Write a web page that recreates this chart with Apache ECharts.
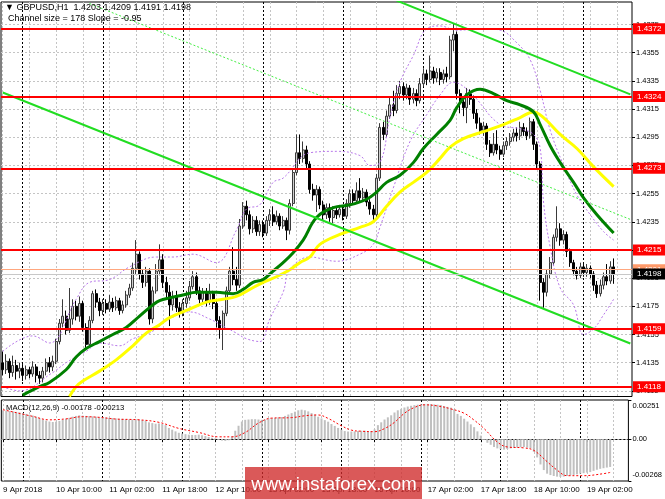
<!DOCTYPE html>
<html><head><meta charset="utf-8">
<script src="https://cdn.jsdelivr.net/npm/echarts@6/dist/echarts.min.js"></script>
<style>html,body{margin:0;padding:0;background:#fff}#c{width:665px;height:499px}</style>
</head><body><div id="c"></div>
<script>
// ---------- header texts ----------
const headerLine1 = '\u25BC GBPUSD,H1  1.4203 1.4209 1.4191 1.4198';
const headerLine2 = 'Channel size = 178 Slope = -0.95';
const macdInfo = 'MACD(12,26,9) -0.00178 -0.00213';
const watermark = 'www.instaforex.com';

// ---------- candles [open, close, low, high], H1 bars from 9 Apr 18:00 ----------
const ohlc = [
[1.4135,1.4130,1.4126,1.4143],[1.4130,1.4136,1.4127,1.4141],[1.4136,1.4128,1.4124,1.4138],[1.4128,1.4133,1.4125,1.4140],
[1.4133,1.4129,1.4123,1.4137],[1.4129,1.4131,1.4124,1.4135],[1.4131,1.4126,1.4122,1.4134],[1.4126,1.4130,1.4123,1.4133],
[1.4130,1.4127,1.4124,1.4132],[1.4127,1.4132,1.4125,1.4136],[1.4132,1.4126,1.4121,1.4134],[1.4126,1.4124,1.4120,1.4129],
[1.4124,1.4129,1.4121,1.4132],[1.4129,1.4135,1.4126,1.4138],[1.4135,1.4132,1.4128,1.4139],[1.4132,1.4136,1.4129,1.4140],
[1.4136,1.4150,1.4134,1.4152],[1.4150,1.4163,1.4148,1.4166],[1.4163,1.4168,1.4160,1.4180],[1.4168,1.4158,1.4155,1.4172],
[1.4158,1.4166,1.4156,1.4188],[1.4166,1.4175,1.4162,1.4180],[1.4175,1.4168,1.4165,1.4179],[1.4168,1.4177,1.4164,1.4182],
[1.4177,1.4160,1.4157,1.4179],[1.4160,1.4148,1.4145,1.4163],[1.4148,1.4165,1.4146,1.4168],[1.4165,1.4184,1.4163,1.4186],
[1.4184,1.4178,1.4174,1.4187],[1.4178,1.4172,1.4168,1.4181],[1.4172,1.4177,1.4169,1.4180],[1.4177,1.4173,1.4170,1.4180],
[1.4173,1.4178,1.4171,1.4183],[1.4178,1.4174,1.4171,1.4181],[1.4174,1.4179,1.4172,1.4182],[1.4179,1.4172,1.4169,1.4181],
[1.4172,1.4176,1.4170,1.4179],[1.4176,1.4183,1.4174,1.4186],[1.4183,1.4188,1.4181,1.4191],[1.4188,1.4202,1.4186,1.4206],
[1.4202,1.4212,1.4198,1.4222],[1.4212,1.4198,1.4194,1.4214],[1.4198,1.4192,1.4188,1.4201],[1.4192,1.4200,1.4189,1.4203],
[1.4200,1.4166,1.4162,1.4202],[1.4166,1.4186,1.4163,1.4189],[1.4186,1.4200,1.4184,1.4205],[1.4200,1.4208,1.4197,1.4219],
[1.4208,1.4192,1.4188,1.4212],[1.4192,1.4185,1.4180,1.4196],[1.4185,1.4176,1.4161,1.4190],[1.4176,1.4182,1.4172,1.4186],
[1.4182,1.4174,1.4171,1.4186],[1.4174,1.4170,1.4167,1.4178],[1.4170,1.4177,1.4168,1.4180],[1.4177,1.4181,1.4174,1.4186],
[1.4181,1.4189,1.4179,1.4193],[1.4189,1.4196,1.4187,1.4200],[1.4196,1.4186,1.4183,1.4199],[1.4186,1.4180,1.4177,1.4189],
[1.4180,1.4185,1.4176,1.4188],[1.4185,1.4178,1.4175,1.4188],[1.4178,1.4184,1.4176,1.4191],[1.4184,1.4177,1.4173,1.4186],
[1.4177,1.4165,1.4160,1.4179],[1.4165,1.4159,1.4152,1.4168],[1.4159,1.4170,1.4144,1.4172],[1.4170,1.4186,1.4168,1.4189],
[1.4186,1.4200,1.4184,1.4203],[1.4200,1.4194,1.4190,1.4217],[1.4194,1.4190,1.4186,1.4203],[1.4190,1.4232,1.4188,1.4237],
[1.4232,1.4246,1.4230,1.4249],[1.4246,1.4240,1.4236,1.4250],[1.4240,1.4230,1.4226,1.4243],[1.4230,1.4236,1.4227,1.4239],
[1.4236,1.4228,1.4225,1.4239],[1.4228,1.4233,1.4225,1.4236],[1.4233,1.4227,1.4224,1.4236],[1.4227,1.4236,1.4225,1.4239],
[1.4236,1.4240,1.4232,1.4244],[1.4240,1.4235,1.4232,1.4246],[1.4235,1.4239,1.4233,1.4243],[1.4239,1.4232,1.4229,1.4241],
[1.4232,1.4236,1.4230,1.4239],[1.4236,1.4229,1.4222,1.4238],[1.4229,1.4248,1.4226,1.4251],[1.4248,1.4270,1.4246,1.4273],
[1.4270,1.4284,1.4268,1.4297],[1.4284,1.4280,1.4276,1.4297],[1.4280,1.4286,1.4277,1.4292],[1.4286,1.4276,1.4273,1.4289],
[1.4276,1.4258,1.4255,1.4278],[1.4258,1.4254,1.4250,1.4262],[1.4254,1.4258,1.4242,1.4261],[1.4258,1.4247,1.4244,1.4260],
[1.4247,1.4240,1.4236,1.4250],[1.4240,1.4245,1.4237,1.4248],[1.4245,1.4238,1.4235,1.4248],[1.4238,1.4243,1.4234,1.4246],
[1.4243,1.4240,1.4237,1.4246],[1.4240,1.4244,1.4238,1.4247],[1.4244,1.4239,1.4236,1.4246],[1.4239,1.4248,1.4237,1.4251],
[1.4248,1.4255,1.4245,1.4258],[1.4255,1.4250,1.4247,1.4258],[1.4250,1.4257,1.4248,1.4263],[1.4257,1.4252,1.4249,1.4266],
[1.4252,1.4256,1.4249,1.4259],[1.4256,1.4249,1.4246,1.4258],[1.4249,1.4244,1.4240,1.4251],[1.4244,1.4240,1.4236,1.4247],
[1.4240,1.4266,1.4238,1.4269],[1.4266,1.4302,1.4264,1.4305],[1.4302,1.4297,1.4293,1.4306],[1.4297,1.4310,1.4295,1.4314],
[1.4310,1.4318,1.4308,1.4323],[1.4318,1.4314,1.4310,1.4328],[1.4314,1.4326,1.4312,1.4332],[1.4326,1.4331,1.4322,1.4335],
[1.4331,1.4325,1.4321,1.4334],[1.4325,1.4330,1.4322,1.4333],[1.4330,1.4322,1.4318,1.4332],[1.4322,1.4326,1.4319,1.4330],
[1.4326,1.4321,1.4317,1.4329],[1.4321,1.4333,1.4319,1.4337],[1.4333,1.4340,1.4331,1.4344],[1.4340,1.4336,1.4332,1.4343],
[1.4336,1.4342,1.4334,1.4353],[1.4342,1.4337,1.4333,1.4345],[1.4337,1.4341,1.4334,1.4344],[1.4341,1.4336,1.4332,1.4344],
[1.4336,1.4340,1.4333,1.4343],[1.4340,1.4338,1.4334,1.4345],[1.4338,1.4364,1.4336,1.4367],[1.4364,1.4368,1.4356,1.4376],
[1.4368,1.4326,1.4322,1.4370],[1.4326,1.4320,1.4312,1.4329],[1.4320,1.4316,1.4310,1.4324],[1.4316,1.4326,1.4305,1.4330],
[1.4326,1.4322,1.4318,1.4329],[1.4322,1.4312,1.4308,1.4325],[1.4312,1.4305,1.4301,1.4315],[1.4305,1.4300,1.4297,1.4309],
[1.4300,1.4303,1.4296,1.4306],[1.4303,1.4290,1.4286,1.4305],[1.4290,1.4284,1.4281,1.4293],[1.4284,1.4290,1.4282,1.4298],
[1.4290,1.4286,1.4283,1.4300],[1.4286,1.4283,1.4279,1.4289],[1.4283,1.4289,1.4281,1.4292],[1.4289,1.4292,1.4286,1.4295],
[1.4292,1.4295,1.4289,1.4298],[1.4295,1.4298,1.4292,1.4301],[1.4298,1.4296,1.4292,1.4302],[1.4296,1.4302,1.4293,1.4306],
[1.4302,1.4299,1.4296,1.4305],[1.4299,1.4296,1.4293,1.4302],[1.4296,1.4306,1.4294,1.4309],[1.4306,1.4290,1.4286,1.4308],
[1.4290,1.4276,1.4272,1.4292],[1.4276,1.4192,1.4179,1.4278],[1.4192,1.4185,1.4174,1.4195],[1.4185,1.4198,1.4182,1.4201],
[1.4198,1.4206,1.4195,1.4210],[1.4206,1.4224,1.4204,1.4226],[1.4224,1.4230,1.4221,1.4246],[1.4230,1.4222,1.4218,1.4234],
[1.4222,1.4226,1.4219,1.4229],[1.4226,1.4214,1.4210,1.4228],[1.4214,1.4206,1.4203,1.4216],[1.4206,1.4200,1.4197,1.4208],
[1.4200,1.4197,1.4194,1.4203],[1.4197,1.4203,1.4195,1.4206],[1.4203,1.4199,1.4196,1.4205],[1.4199,1.4202,1.4196,1.4205],
[1.4202,1.4198,1.4195,1.4204],[1.4198,1.4190,1.4186,1.4200],[1.4190,1.4184,1.4181,1.4193],[1.4184,1.4190,1.4182,1.4194],
[1.4190,1.4196,1.4187,1.4199],[1.4196,1.4193,1.4190,1.4205],[1.4193,1.4203,1.4191,1.4207],[1.4203,1.4198,1.4191,1.4209]
];

// ---------- moving averages & bands: [barIndex, price] ----------
const maGreen = [[6,1.4112],[11,1.4118],[14,1.4121],[19,1.4130],[22,1.4139],[25,1.4145],[29,1.4150],[33,1.4155],[37,1.4160],[41,1.4168],[45,1.4176],[47,1.4179],[50,1.4181],[54,1.4183],[58,1.4185],[64,1.4185],[69,1.4184],[72,1.4187],[75,1.4192],[78,1.4194],[81,1.4200],[84,1.4206],[87,1.4213],[90,1.4222],[94,1.4238],[99,1.4245],[104,1.4247],[109,1.4251],[112,1.4256],[115,1.4263],[119,1.4268],[123,1.4277],[126,1.4287],[130,1.4297],[134,1.4307],[136,1.4316],[139,1.4325],[143,1.4329],[147,1.4326],[151,1.4321],[155,1.4318],[159,1.4313],[161,1.4304],[164,1.4289],[167,1.4277],[171,1.4263],[174,1.4252],[178,1.4240],[183,1.4227]];
const maYellow = [[20,1.4111],[22,1.4118],[24,1.4122],[29,1.4129],[34,1.4137],[39,1.4147],[43,1.4156],[47,1.4162],[50,1.4167],[56,1.4173],[61,1.4178],[66,1.4180],[70,1.4182],[74,1.4187],[78,1.4192],[82,1.4196],[86,1.4201],[89,1.4206],[92,1.4210],[95,1.4219],[101,1.4226],[107,1.4231],[111,1.4235],[115,1.4246],[119,1.4256],[123,1.4263],[127,1.4270],[131,1.4280],[134,1.4288],[138,1.4294],[144,1.4299],[150,1.4304],[155,1.4309],[159,1.4313],[162,1.4309],[167,1.4297],[172,1.4287],[177,1.4274],[183,1.4260]];
const bandUpper = [[0,1.4143],[9,1.4154],[14,1.4149],[22,1.4180],[26,1.4192],[32,1.4194],[38,1.4203],[46,1.4210],[51,1.4210],[57,1.4212],[64,1.4206],[70,1.4229],[73,1.4244],[77,1.4247],[81,1.4263],[84,1.4266],[92,1.4284],[100,1.4285],[107,1.4282],[110,1.4275],[113,1.4277],[116,1.4309],[119,1.4334],[123,1.4353],[127,1.4372],[131,1.4374],[136,1.4371],[144,1.4372],[149,1.4371],[154,1.4362],[158,1.4350],[161,1.4328],[164,1.4300],[168,1.4275],[172,1.4254],[176,1.4240],[180,1.4228],[183,1.4222]];
const bandLower = [[0,1.4118],[5,1.4115],[15,1.4128],[19,1.4135],[25,1.4143],[29,1.4149],[35,1.4147],[39,1.4152],[44,1.4156],[50,1.4166],[56,1.4171],[62,1.4166],[66,1.4161],[70,1.4156],[73,1.4152],[77,1.4150],[80,1.4166],[84,1.4185],[86,1.4201],[92,1.4210],[100,1.4207],[107,1.4212],[111,1.4219],[113,1.4231],[117,1.4259],[122,1.4292],[127,1.4311],[131,1.4325],[135,1.4334],[140,1.4327],[149,1.4304],[155,1.4301],[159,1.4297],[161,1.4287],[162,1.4249],[164,1.4217],[167,1.4188],[171,1.4176],[174,1.4155],[177,1.4159],[180,1.4169],[183,1.4180]];

// ---------- regression channel (end points) ----------
const channelUpper = [[118,1.4392],[188,1.43254]];
const channelMid   = [[26,1.43899],[188,1.42367]];
const channelLower = [[0,1.43268],[188,1.41486]];

// ---------- levels ----------
const levels = [1.4372, 1.4324, 1.4273, 1.4215, 1.4159, 1.4118];
const askPrice = 1.4201;
const bidPrice = 1.4198;

// ---------- MACD ----------
const macdHist = [
0.00185,0.00183,0.00180,0.00178,0.00175,0.00171,0.00167,0.00162,0.00157,0.00151,
0.00144,0.00135,0.00126,0.00119,0.00113,0.00110,0.00112,0.00117,0.00124,0.00131,
0.00137,0.00144,0.00149,0.00153,0.00151,0.00149,0.00148,0.00146,0.00144,0.00140,
0.00140,0.00139,0.00137,0.00135,0.00133,0.00131,0.00130,0.00128,0.00126,0.00126,
0.00128,0.00126,0.00122,0.00119,0.00108,0.00103,0.00099,0.00101,0.00097,0.00090,
0.00072,0.00061,0.00050,0.00041,0.00036,0.00032,0.00029,0.00027,0.00027,0.00029,
0.00025,0.00020,0.00014,0.00009,0.00005,-0.00004,-0.00009,-0.00011,-0.00007,0.00018,
0.00054,0.00086,0.00113,0.00124,0.00126,0.00128,0.00128,0.00126,0.00124,0.00126,
0.00133,0.00135,0.00137,0.00140,0.00142,0.00149,0.00158,0.00167,0.00176,0.00185,
0.00189,0.00185,0.00178,0.00167,0.00158,0.00144,0.00133,0.00122,0.00112,0.00097,
0.00085,0.00072,0.00061,0.00052,0.00049,0.00049,0.00050,0.00052,0.00054,0.00054,
0.00052,0.00050,0.00063,0.00090,0.00108,0.00126,0.00140,0.00153,0.00171,0.00185,
0.00194,0.00203,0.00209,0.00214,0.00218,0.00221,0.00223,0.00225,0.00226,0.00225,
0.00223,0.00221,0.00218,0.00212,0.00207,0.00202,0.00191,0.00162,0.00149,0.00131,
0.00113,0.00095,0.00077,0.00050,0.00023,-0.00005,-0.00023,-0.00036,-0.00050,-0.00059,
-0.00065,-0.00067,-0.00063,-0.00059,-0.00056,-0.00054,-0.00052,-0.00050,-0.00054,-0.00059,
-0.00081,-0.00117,-0.00162,-0.00198,-0.00221,-0.00230,-0.00236,-0.00240,-0.00242,-0.00240,
-0.00236,-0.00232,-0.00229,-0.00225,-0.00221,-0.00218,-0.00214,-0.00211,-0.00203,-0.00196,
-0.00190,-0.00186,-0.00182,-0.00178
];
const macdSignal = [[0,0.00189],[9,0.00146],[14,0.00124],[19,0.00130],[24,0.00144],[29,0.00140],[34,0.00129],[41,0.00124],[47,0.00108],[53,0.00069],[59,0.00043],[65,0.00015],[69,0.00015],[73,0.00043],[77,0.00103],[81,0.00135],[87,0.00138],[91,0.00150],[95,0.00155],[98,0.00133],[102,0.00086],[105,0.00058],[108,0.00051],[112,0.00048],[115,0.00068],[118,0.00108],[121,0.00166],[124,0.00203],[127,0.00220],[131,0.00213],[135,0.00194],[139,0.00166],[142,0.00122],[145,0.00068],[149,-0.00018],[152,-0.00050],[157,-0.00056],[160,-0.00072],[164,-0.00144],[167,-0.00198],[170,-0.00234],[175,-0.00234],[181,-0.00221],[183,-0.00213]];

// ---------- axes ----------
const priceTicks = [1.4115,1.4135,1.4155,1.4175,1.4195,1.4215,1.4235,1.4255,1.4275,1.4295,1.4315,1.4335,1.4355,1.4375];
const macdTicks = [0.00251, 0, -0.00268];
const xTickLabels = ['9 Apr 2018','10 Apr 10:00','11 Apr 02:00','11 Apr 18:00','12 Apr 10:00','13 Apr 02:00','13 Apr 18:00','16 Apr 10:00','17 Apr 02:00','17 Apr 18:00','18 Apr 10:00','19 Apr 02:00'];
const xTickEvery = 16;
const daySeparators = [6,30,54,78,102,126,150,174];
const gridEvery = 8;

// hourly categories (weekend skipped), plus empty slots on the right
const cats = [];
for (let t = Date.UTC(2018,3,9,18); cats.length < 189; t += 3600000) {
  const d = new Date(t), wd = d.getUTCDay();
  if (wd === 0 || wd === 6) continue;
  cats.push(d.toISOString().slice(0,13).replace('T',' ') + ':00');
}

const FONT = '"Liberation Sans", Arial, sans-serif';
const vIdx = (i) => (i % gridEvery === 0) || daySeparators.indexOf(i) >= 0;
const vColors = ['#c4c4c4','#000000','#c4c4c4','#c4c4c4'];

const levelLabel = (bg) => ({show:true, position:'end', distance:1, formatter:(p)=>Number(p.value).toFixed(4),
  backgroundColor:bg, color:'#fff', fontSize:8, fontFamily:FONT, padding:[2,5,1,4]});

const chart = echarts.init(document.getElementById('c'), null, {renderer:'canvas'});
chart.setOption({
  animation:false,
  backgroundColor:'#fff',
  grid:[
    {left:1, top:2, width:631, height:394.5, show:true, borderColor:'#000', borderWidth:1, backgroundColor:'transparent'},
    {left:1, top:400, width:631, height:81, show:true, borderColor:'#000', borderWidth:1, backgroundColor:'transparent'}
  ],
  xAxis:[
    {type:'category', gridIndex:0, data:cats, boundaryGap:true,
     axisLine:{show:false}, axisTick:{show:false}, axisLabel:{show:false},
     splitLine:{show:true, interval:(i)=>vIdx(i), alignWithLabel:true, lineStyle:{color:vColors, type:[2,2], width:1}}},
    {type:'category', gridIndex:1, data:cats, boundaryGap:true,
     axisLine:{show:true, lineStyle:{color:'#000', width:1}},
     axisTick:{show:true, alignWithLabel:true, interval:(i)=>i % xTickEvery === 0, length:3, lineStyle:{color:'#000'}},
     axisLabel:{show:true, interval:(i)=>i % xTickEvery === 0, formatter:(v,i)=>xTickLabels[i / xTickEvery] || '',
       align:'left', fontSize:8, fontFamily:FONT, color:'#000', margin:5},
     splitLine:{show:true, interval:(i)=>vIdx(i), alignWithLabel:true, lineStyle:{color:vColors, type:[2,2], width:1}}}
  ],
  yAxis:[
    {type:'value', gridIndex:0, position:'right', min:1.4111, max:1.4391,
     axisLine:{show:false},
     axisTick:{show:true, customValues:priceTicks, length:3, lineStyle:{color:'#000'}},
     axisLabel:{customValues:priceTicks, formatter:(v)=>v.toFixed(4), fontSize:7.5, fontFamily:FONT, color:'#000', margin:4},
     splitLine:{show:true, lineStyle:{color:'#c4c4c4', type:[2,2], width:1}}},
    {type:'value', gridIndex:1, position:'right', min:-0.00268, max:0.00251,
     axisLine:{show:false},
     axisTick:{show:true, customValues:macdTicks, length:3, lineStyle:{color:'#000'}},
     axisLabel:{customValues:macdTicks, fontSize:7.5, fontFamily:FONT, color:'#000', margin:4,
       formatter:(v)=> v === 0 ? '0.00' : (v > 0 ? '{t|' + v.toFixed(5) + '}' : '{b|' + v.toFixed(5) + '}'),
       rich:{t:{fontSize:7.5, fontFamily:FONT, padding:[12,0,0,0]}, b:{fontSize:7.5, fontFamily:FONT, padding:[0,0,12,0]}}},
     splitLine:{show:false}}
  ],
  series:[
    {type:'candlestick', xAxisIndex:0, yAxisIndex:0, data:ohlc, barWidth:2.5,
     itemStyle:{color:'#d0d0d0', color0:'#000', borderColor:'#3a3a3a', borderColor0:'#000', borderWidth:1}},
    {type:'line', name:'band upper', xAxisIndex:0, yAxisIndex:0, data:bandUpper, smooth:0.4, showSymbol:false,
     lineStyle:{color:'#b878ea', width:1, type:[2,2]}},
    {type:'line', name:'band lower', xAxisIndex:0, yAxisIndex:0, data:bandLower, smooth:0.4, showSymbol:false,
     lineStyle:{color:'#b878ea', width:1, type:[2,2]}},
    {type:'line', name:'MA yellow', xAxisIndex:0, yAxisIndex:0, data:maYellow, smooth:0.4, showSymbol:false,
     lineStyle:{color:'#ffff00', width:3}},
    {type:'line', name:'MA green', xAxisIndex:0, yAxisIndex:0, data:maGreen, smooth:0.4, showSymbol:false,
     lineStyle:{color:'#008000', width:3}},
    {type:'line', name:'channel upper', xAxisIndex:0, yAxisIndex:0, data:channelUpper, showSymbol:false,
     lineStyle:{color:'#22dd22', width:2}},
    {type:'line', name:'channel mid', xAxisIndex:0, yAxisIndex:0, data:channelMid, showSymbol:false,
     lineStyle:{color:'#44ee44', width:1, type:[2,2]}},
    {type:'line', name:'channel lower', xAxisIndex:0, yAxisIndex:0, data:channelLower, showSymbol:false,
     lineStyle:{color:'#22dd22', width:2},
     markLine:{silent:true, symbol:['none','none'], animation:false, precision:4,
       data: levels.map(v => ({yAxis:v, lineStyle:{color:'#ff0000', width:2, type:'solid'}, label:levelLabel('#ff0000')}))
         .concat([
           {yAxis:askPrice, lineStyle:{color:'#ffa77f', width:1, type:'solid'}, label:levelLabel('#ff9a6a')},
           {yAxis:bidPrice, lineStyle:{color:'#c8c8c8', width:1, type:'solid'}, label:levelLabel('#000000')}
         ])}},
    {type:'bar', name:'MACD', xAxisIndex:1, yAxisIndex:1, data:macdHist, barWidth:2,
     itemStyle:{color:'#c0c0c0'},
     markLine:{silent:true, symbol:['none','none'], label:{show:false}, precision:5,
       data:[{yAxis:0, lineStyle:{color:'#b0b0b0', type:[2,2], width:1}}]}},
    {type:'line', name:'Signal', xAxisIndex:1, yAxisIndex:1, data:macdSignal, smooth:0.4, showSymbol:false,
     lineStyle:{color:'#ff0000', width:1, type:[2,2]}}
  ],
  graphic:[
    {type:'text', left:5, top:3, z:100, style:{text:headerLine1, fill:'#000', font:'9px ' + FONT}},
    {type:'text', left:8, top:14, z:100, style:{text:headerLine2, fill:'#000', font:'9px ' + FONT}},
    {type:'text', left:6, top:404, z:100, style:{text:macdInfo, fill:'#000', font:'7.7px ' + FONT}},
    {type:'rect', z:100, shape:{x:245, y:467, width:177, height:34}, style:{fill:'rgba(208,42,42,0.78)'}},
    {type:'text', z:101, x:334, y:485, style:{text:watermark, fill:'#fff', font:'18.6px ' + FONT, align:'center', verticalAlign:'middle'}}
  ]
});
</script>
</body></html>
